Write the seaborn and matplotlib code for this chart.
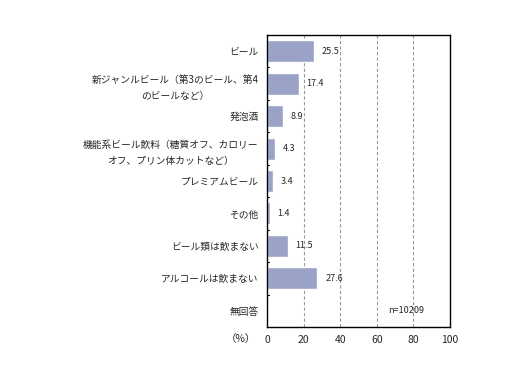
import pandas as pd
import matplotlib
matplotlib.use("Agg")
import matplotlib.pyplot as plt
import seaborn as sns

categories = ['ビール',
              '新ジャンルビール（第3のビール、第4\nのビールなど）',
              '発泡酒',
              '機能系ビール飲料（糖質オフ、カロリー\nオフ、プリン体カットなど）',
              'プレミアムビール',
              'その他',
              'ビール類は飲まない',
              'アルコールは飲まない',
              '無回答']
values = [25.5, 17.4, 8.9, 4.3, 3.4, 1.4, 11.5, 27.6, 0.0]
value_labels = ['25.5', '17.4', '8.9', '4.3', '3.4', '1.4', '11.5', '27.6', '']
x_ticks = [0, 20, 40, 60, 80, 100]

sns.set_style('white')
plt.rcParams['font.family'] = ['Noto Sans CJK JP', 'DejaVu Sans']

df = pd.DataFrame({'cat': categories, 'val': values})

fig = plt.figure(figsize=(5.13, 3.92), dpi=100)
ax = fig.add_axes([0.5205, 0.1658, 0.877 - 0.5205, 0.9107 - 0.1658])

sns.barplot(data=df, x='val', y='cat', color='#9aa2c8', saturation=1,
            width=0.68, ax=ax)

ax.set_xlim(0, 100)
ax.set_ylim(len(categories) - 0.5, -0.5)
ax.set_xticks(x_ticks)
ax.set_xticklabels([str(t) for t in x_ticks], fontsize=7.5)
ax.tick_params(axis='x', length=0, pad=6)
ax.set_xlabel('')
ax.set_ylabel('')

for t in x_ticks[1:-1]:
    ax.axvline(t, color='#999999', linestyle=(0, (3, 2)), linewidth=0.8, zorder=0)

ax.set_yticks(range(len(categories)))
ax.set_yticklabels(categories, fontsize=7, multialignment='center',
                   linespacing=1.75)
ax.tick_params(axis='y', length=0, pad=6)

# small inward ticks at category boundaries
for b in range(1, len(categories)):
    ax.plot([0, 1.2], [b - 0.5, b - 0.5], color='black', linewidth=0.8,
            clip_on=False)

for i, (v, lab) in enumerate(zip(values, value_labels)):
    if lab:
        ax.text(v + 4.2, i, lab, va='center', ha='left', fontsize=6.5)

ax.text(66, 8, 'n=10209', va='center', ha='left', fontsize=6.5)
ax.text(-0.06, -0.04, '（%）', transform=ax.transAxes, ha='right', va='center',
        fontsize=7.5)

for s in ax.spines.values():
    s.set_color('black')
    s.set_linewidth(1.0)

fig.savefig('out.png', dpi=100)
